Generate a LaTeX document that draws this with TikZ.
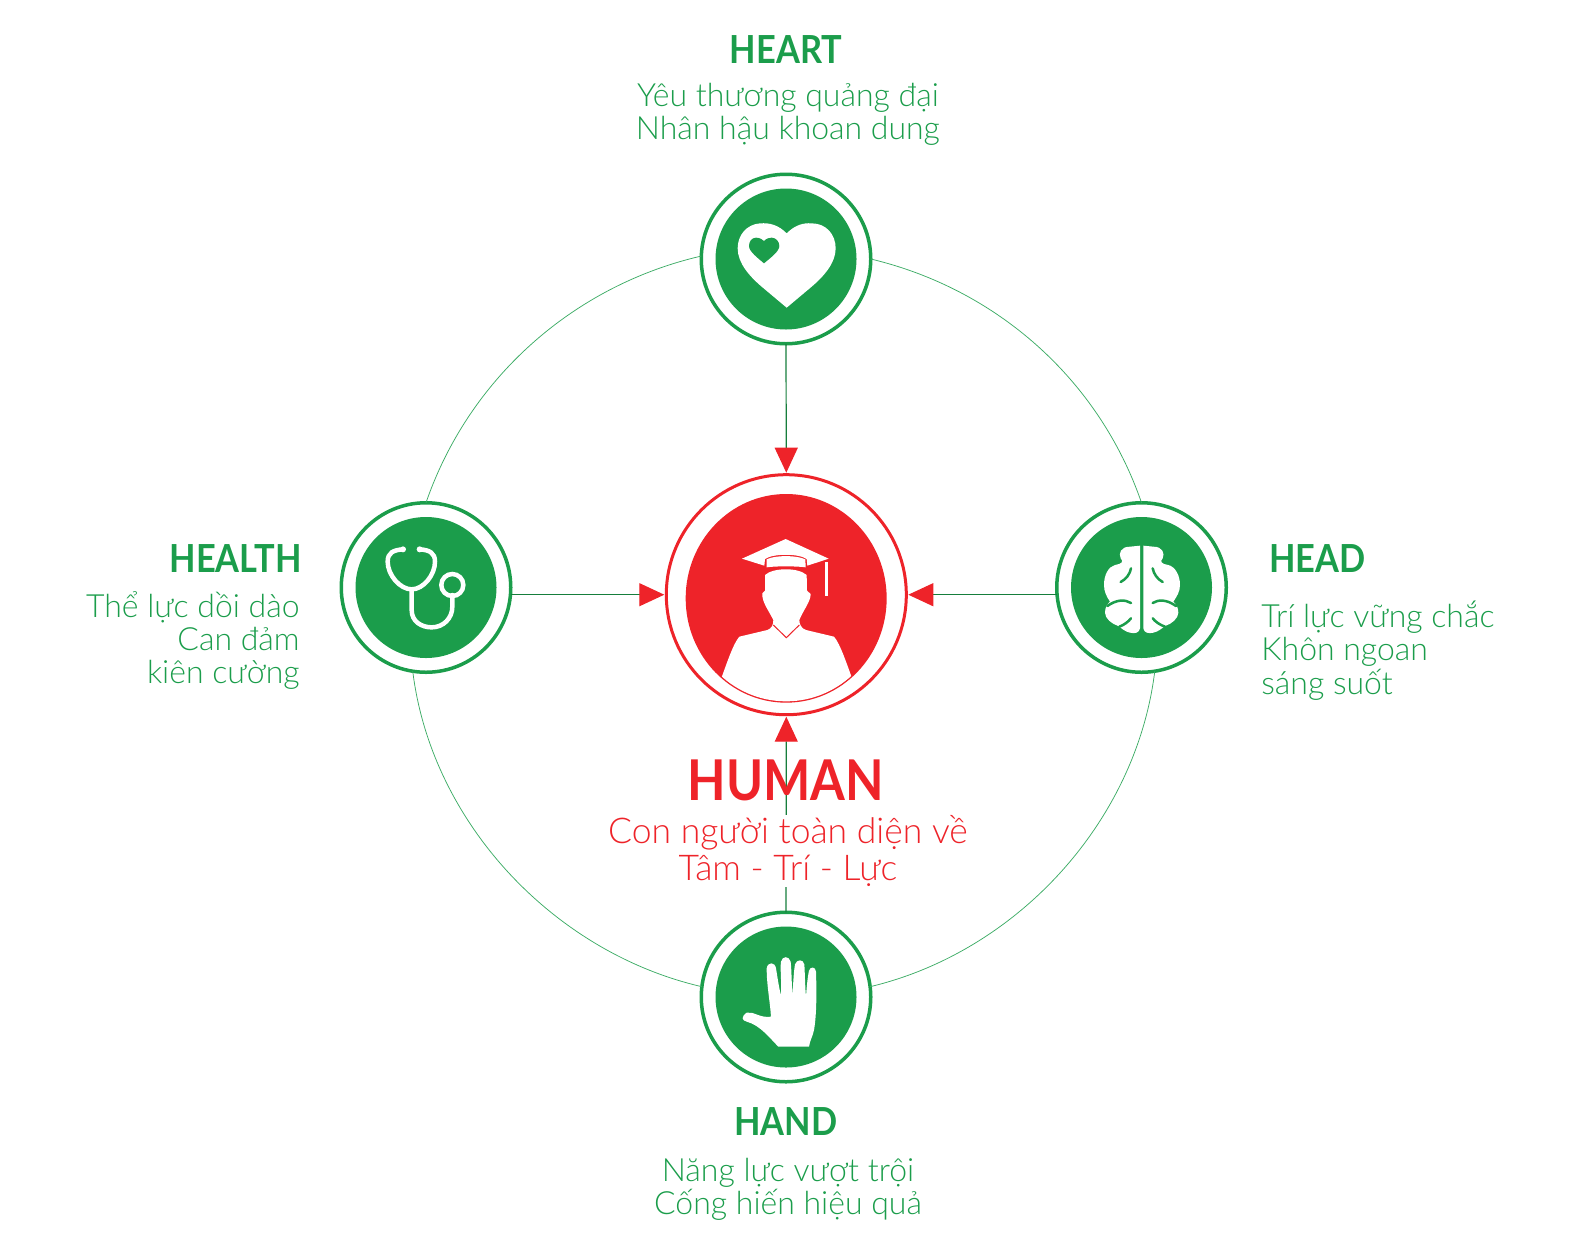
\documentclass[tikz,border=0pt]{standalone}
\usepackage{fontspec}
\setmainfont{Lato}
\newfontfamily\headfont[FakeStretch=0.89]{Lato}
\newfontfamily\blurbfont{Lato Light}
\usetikzlibrary{arrows.meta,positioning}
\definecolor{leaf}{HTML}{1B9D4B}
\definecolor{hred}{HTML}{EE2329}
\tikzset{
  ringnode/.style={circle,draw=leaf,line width=0.7mm,fill=white,minimum size=33.9mm,inner sep=0pt,outer sep=0pt},
  humanring/.style={circle,draw=hred,line width=0.6mm,fill=white,minimum size=48mm,inner sep=0pt,outer sep=0pt},
  ringline/.style={draw=leaf!85,line width=0.15mm,looseness=0.91},
  feed/.style={draw=leaf!80!black,line width=0.24mm,shorten >=0.4mm,-{Triangle[length=5mm,width=4.6mm,color=hred]}},
  headword/.style={font=\headfont\bfseries\fontsize{22}{24}\selectfont,text=leaf,inner sep=0pt},
  blurb/.style={font=\blurbfont\fontsize{18.2}{18.8}\selectfont,text=leaf,inner sep=0pt},
  icon/.style={fill=white,draw=none},
  stetho/.style={draw=white,line width=0.9mm,line cap=round,fill=none}
}
\begin{document}
\begin{tikzpicture}[x=0.2mm,y=-0.2mm]
\useasboundingbox (0,0) rectangle (1574,1238);

% Circles on the ring
\node[ringnode] (heart) at (786,259) {};
\node[ringnode] (head) at (1141.5,587.5) {};
\node[ringnode] (health) at (426,587.5) {};
\node[ringnode] (hand) at (786,997) {};
\node[humanring] (human) at (786.3,594.7) {};

% Ring between them
\draw[ringline] (heart.0) to[out=-13.4,in=109] (head.north);
\draw[ringline] (head.-81) to[out=-97,in=13.4] (hand.7);
\draw[ringline] (hand.173) to[out=167,in=-83] (health.-99);
\draw[ringline] (health.north) to[out=71,in=193] (heart.178);

% Arrows into the middle
\draw[feed] (heart.south) -- (human.north);
\draw[feed] (health.east |- human.west) -- (human.west);
\draw[feed] (head.west |- human.east) -- (human.east);
\draw[feed] (hand.north) -- (human.south);

% Green discs
\foreach \pos in {heart,head,health,hand}
  \fill[leaf] (\pos) circle (70.5);

% Heart icon
\begin{scope}[shift={(695,170)},scale=1/3]
\fill[icon] (275,190) .. controls (250,165) and (225,158) .. (195,160) .. controls (155,163) and (128,195) .. (128,235)
  .. controls (128,280) and (165,320) .. (200,350) -- (275,413) -- (350,350) .. controls (385,320) and (422,280) .. (422,235)
  .. controls (422,195) and (395,160) .. (350,160) .. controls (325,158) and (300,165) .. (275,190) -- cycle;
\fill[leaf] (207,213) .. controls (195,203) and (188,203) .. (183,203) .. controls (170,203) and (162,215) .. (162,228)
  .. controls (162,245) and (190,265) .. (207,280) .. controls (224,265) and (253,245) .. (253,228)
  .. controls (253,215) and (243,203) .. (230,203) .. controls (222,203) and (215,205) .. (207,213) -- cycle;
\end{scope}

% Brain icon
\begin{scope}[shift={(1050,500)},scale=1/3]
\fill[icon] (270,137) -- (270,385) .. controls (268,398) and (255,402) .. (240,398) .. controls (225,395) and (215,385) .. (205,378)
  .. controls (185,372) and (165,355) .. (165,338) .. controls (165,322) and (172,312) .. (180,305)
  .. controls (170,290) and (162,275) .. (162,255) .. controls (162,225) and (175,200) .. (195,195)
  .. controls (215,192) and (222,185) .. (212,175) .. controls (205,160) and (212,140) .. (240,140) -- cycle;
\fill[icon] (280,137) -- (280,385) .. controls (282,398) and (295,402) .. (310,398) .. controls (325,395) and (335,385) .. (345,378)
  .. controls (365,372) and (385,355) .. (385,338) .. controls (385,322) and (378,312) .. (370,305)
  .. controls (380,290) and (390,275) .. (390,255) .. controls (390,225) and (375,200) .. (355,195)
  .. controls (335,192) and (328,185) .. (338,175) .. controls (345,160) and (338,140) .. (310,140) -- cycle;
\draw[leaf,line width=0.5mm,line cap=round] (243,205) .. controls (240,222) and (228,238) .. (212,246);
\draw[leaf,line width=0.5mm,line cap=round] (308,205) .. controls (311,222) and (323,238) .. (338,246);
\draw[leaf,line width=0.5mm,line cap=round] (243,309) .. controls (225,298) and (200,298) .. (172,318);
\draw[leaf,line width=0.5mm,line cap=round] (308,309) .. controls (325,298) and (350,298) .. (378,318);
\draw[leaf,line width=0.5mm,line cap=round] (243,355) .. controls (235,365) and (222,375) .. (208,380);
\draw[leaf,line width=0.5mm,line cap=round] (308,355) .. controls (316,365) and (330,375) .. (345,380);
\end{scope}

% Stethoscope icon
\begin{scope}[shift={(335,500)},scale=1/3]
\draw[stetho] (204,148) .. controls (175,150) and (158,158) .. (158,185) .. controls (158,225) and (195,268) .. (230,268)
  .. controls (265,268) and (300,225) .. (300,185) .. controls (300,158) and (283,150) .. (254,148);
\draw[stetho] (230,268) -- (230,330) .. controls (230,365) and (260,382) .. (290,382) .. controls (325,382) and (352,355) .. (352,320) -- (352,285);
\draw[stetho] (352,255) circle (33);
\fill[white] (204,148) circle (9) (254,148) circle (9);
\end{scope}

% Hand icon
\begin{scope}[shift={(695,905)},scale=1/3]
\fill[icon] (250,425) .. controls (225,400) and (195,360) .. (155,350) .. controls (140,346) and (138,335) .. (155,323)
  .. controls (175,318) and (195,340) .. (228,335) .. controls (225,290) and (215,240) .. (215,190)
  .. controls (218,170) and (240,170) .. (243,190) .. controls (248,220) and (252,250) .. (258,270)
  .. controls (260,230) and (255,190) .. (258,170) .. controls (262,152) and (282,152) .. (287,170)
  .. controls (290,200) and (290,240) .. (292,268) .. controls (295,235) and (296,200) .. (300,178)
  .. controls (305,162) and (325,162) .. (328,178) .. controls (330,210) and (330,245) .. (333,275)
  .. controls (335,245) and (338,215) .. (342,197) .. controls (346,183) and (362,185) .. (363,200)
  .. controls (365,260) and (365,330) .. (357,375) .. controls (353,395) and (345,405) .. (342,425) -- cycle;
\end{scope}

% Graduate in the middle
\begin{scope}[shift={(660,460)},scale=1/3]
\fill[hred] (378.5,415) ellipse (301.5 and 313);
\begin{scope}
\clip (378.5,415) ellipse (297 and 309);
\fill[icon] (175,680) .. controls (200,610) and (220,550) .. (238,530) -- (322,510) .. controls (335,505) and (340,495) .. (340,480)
  .. controls (325,450) and (305,425) .. (307,400) -- (315,392) -- (315,345) .. controls (340,322) and (415,322) .. (440,345)
  -- (441,392) -- (452,402) .. controls (452,425) and (430,450) .. (418,480) .. controls (418,495) and (425,505) .. (438,510)
  -- (522,530) .. controls (540,550) and (560,610) .. (585,680) -- (585,740) -- (175,740) -- cycle;
\end{scope}
\draw[hred,line width=0.2mm] (340,495) -- (379,533) -- (418,495);
\fill[icon] (246,296) -- (377,237) -- (506,296) -- (442,317) -- (440,297) .. controls (415,280) and (340,280) .. (315,297) -- (313,317) -- cycle;
\fill[icon] (320,298) .. controls (345,285) and (410,285) .. (436,298) -- (437,322) .. controls (410,318) and (345,318) .. (320,322) -- cycle;
\fill[icon] (496,305) rectangle (504,408);
\end{scope}

% Labels
\node[headword] (heartname) at (786,50) {HEART};
\node[blurb,align=center] (hearttext) at (788,114) {Yêu thương quảng đại\\Nhân hậu khoan dung};
\node[headword,anchor=west] (headname) at (1269,559) {HEAD};
\node[blurb,align=left,anchor=north west] (headtext) at (1261,601) {Trí lực vững chắc\\Khôn ngoan\\sáng suốt};
\node[headword,anchor=east] (healthname) at (302,559) {HEALTH};
\node[blurb,align=right,anchor=north east] (healthtext) at (300,591) {Thể lực dồi dào\\Can đảm\\kiên cường};
\node[headword] (handname) at (786,1122) {HAND};
\node[blurb,align=center] (handtext) at (788,1189) {Năng lực vượt trội\\Cống hiến hiệu quả};
\node[font=\headfont\bfseries\fontsize{32}{36}\selectfont,text=hred,inner sep=0pt] (humanname) at (786,780) {HUMAN};
\node[font=\blurbfont\fontsize{20.2}{21.3}\selectfont,text=hred,align=center,inner sep=0pt,fill=white] (humantext) at (788,851) {Con người toàn diện về\\Tâm - Trí - Lực};

\end{tikzpicture}
\end{document}
